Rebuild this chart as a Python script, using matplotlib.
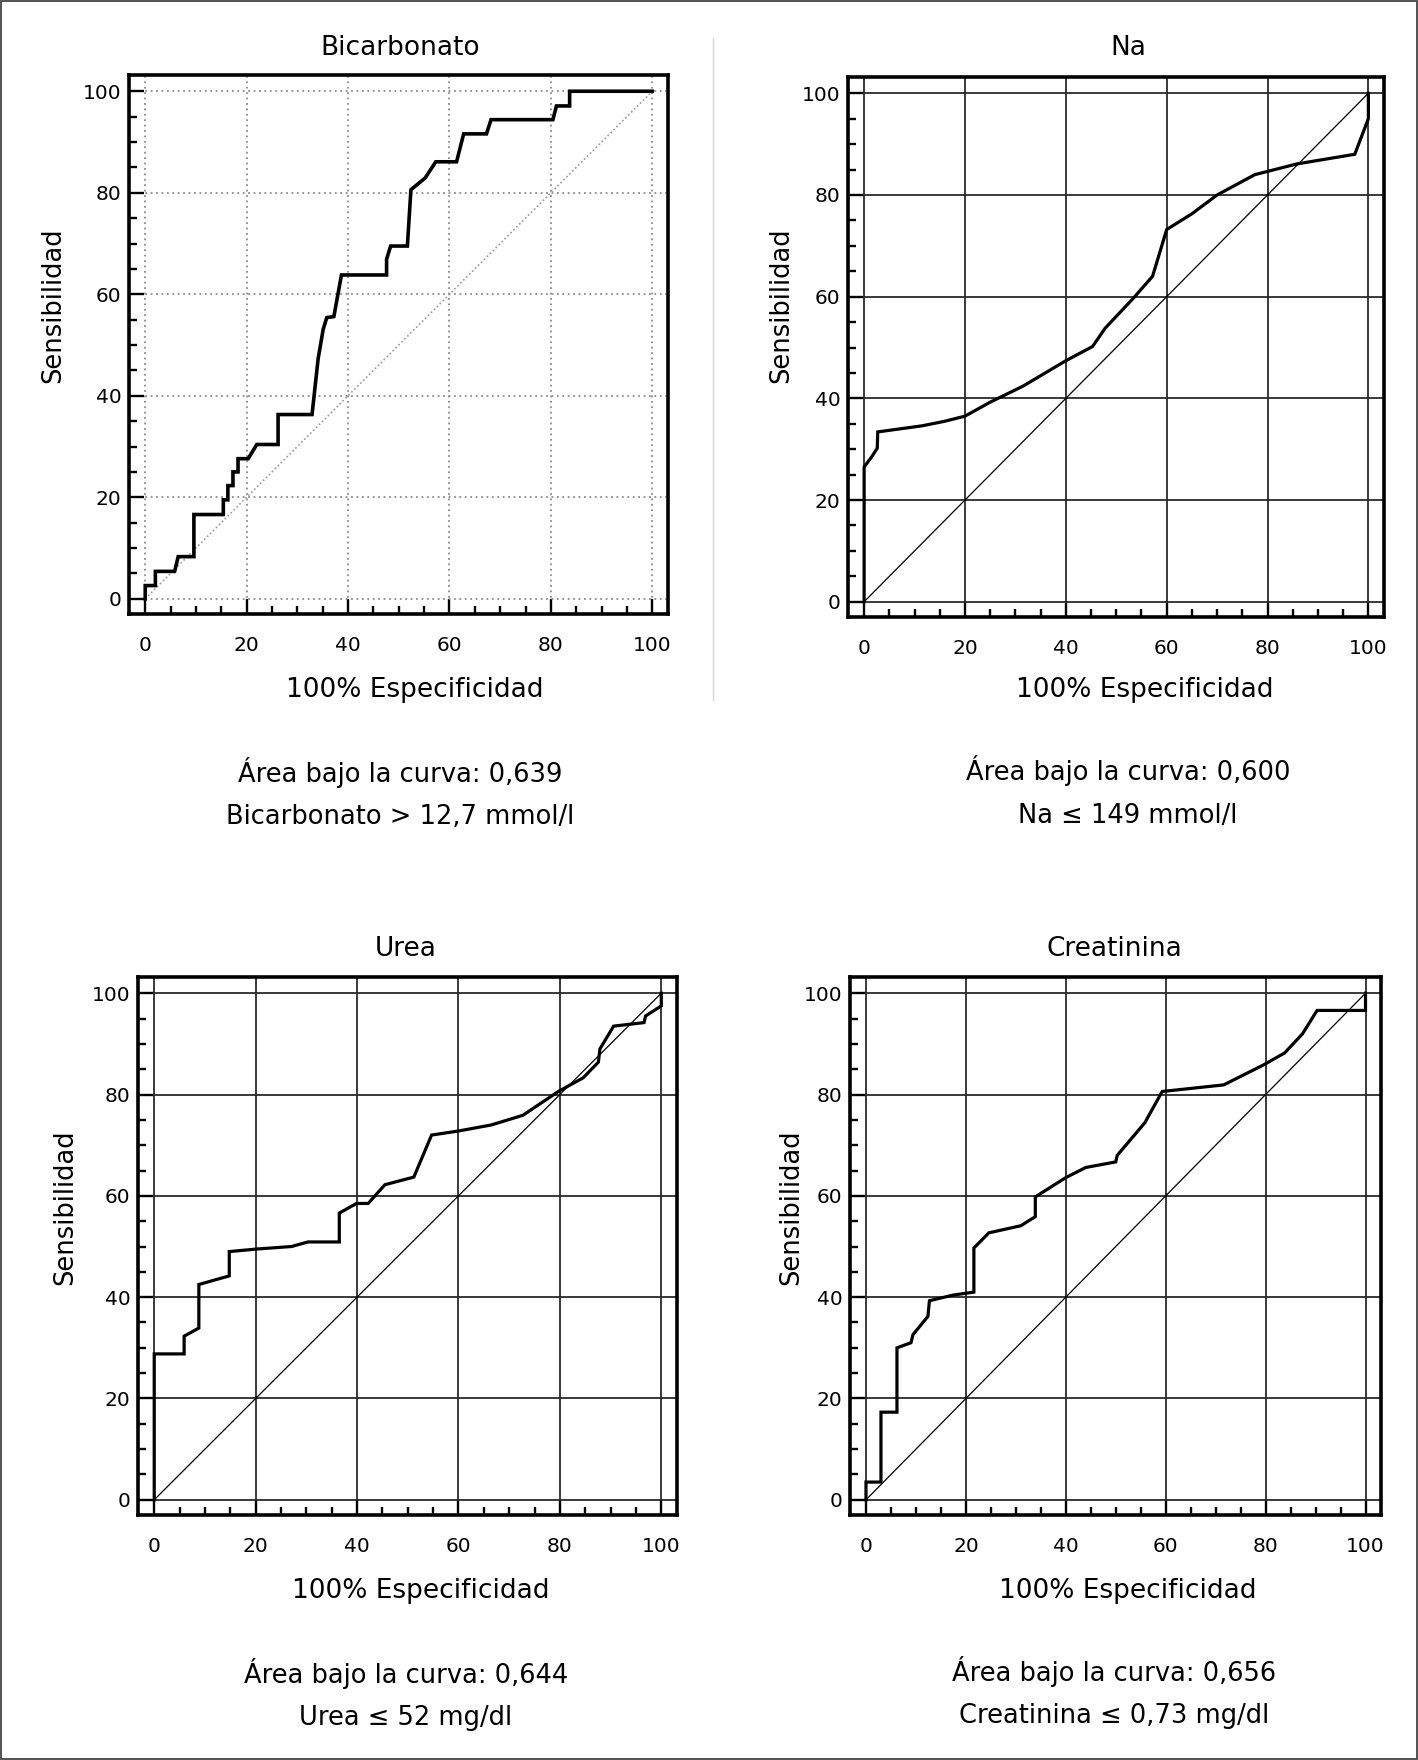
import matplotlib
matplotlib.use("Agg")
import matplotlib.pyplot as plt
from matplotlib.ticker import MultipleLocator
from matplotlib.lines import Line2D
from matplotlib.patches import Rectangle

plt.rcParams['font.family'] = ['DejaVu Sans']

# ROC curves (x = 100-Especificidad, y = Sensibilidad)
bicarb_x = [0, 0, 2, 2, 5.8, 6.5, 9.6, 9.6, 15.4, 15.4, 16.3, 16.3, 17.3, 17.3, 18.3, 18.3,
            20.3, 22, 26.2, 26.2, 32.9, 34.1, 35.1, 35.8, 37.2, 38.7, 47.6, 47.6, 48.4, 51.7,
            52.4, 55.2, 57.3, 61.4, 62.8, 67.3, 68.2, 80.4, 81.1, 83.7, 83.7, 100]
bicarb_y = [0, 2.6, 2.6, 5.4, 5.4, 8.3, 8.3, 16.6, 16.6, 19.5, 19.5, 22.3, 22.3, 25, 25, 27.6,
            27.6, 30.4, 30.4, 36.3, 36.3, 47.3, 53.1, 55.4, 55.6, 63.8, 63.8, 66.9, 69.5, 69.5,
            80.6, 82.9, 86.1, 86.1, 91.6, 91.6, 94.4, 94.4, 97.1, 97.1, 100, 100]

na_x = [0, 0, 1.5, 2.6, 2.7, 11.5, 16, 20, 24.9, 31.5, 40, 45.3, 47.8, 53.3, 57.2, 60,
        65, 70, 77.5, 85.8, 97.3, 100, 100]
na_y = [0, 26.5, 28.5, 30.2, 33.4, 34.6, 35.5, 36.5, 39.2, 42.4, 47.4, 50.2, 53.8, 59.6, 64, 73.2,
        76.3, 80, 84, 86.1, 88, 95, 100]

urea_x = [0, 0, 5.9, 5.9, 8.8, 8.8, 14.8, 14.8, 20.2, 27.1, 30.3, 36.5, 36.5, 39.9, 42.2, 45.5,
          51.2, 54.7, 60, 66.5, 72.7, 79.7, 84.6, 87.6, 87.9, 90.6, 96.6, 96.9, 100, 100]
urea_y = [0, 28.8, 28.8, 32.3, 33.9, 42.5, 44.2, 49, 49.5, 50, 50.9, 50.9, 56.6, 58.5, 58.5, 62.2,
          63.7, 72, 72.8, 74, 75.9, 80.6, 83.3, 86.4, 89, 93.5, 94.2, 95.5, 97.5, 100]

creat_x = [0, 0, 3, 3, 6.2, 6.2, 9, 9.4, 12.4, 12.7, 17.4, 21.6, 21.6, 24.6, 31, 33.9, 33.9,
           40, 44, 50, 50.3, 55.8, 59.3, 71.6, 79.5, 83.8, 87.4, 90.3, 100, 100]
creat_y = [0, 3.5, 3.5, 17.3, 17.3, 30, 31, 32.6, 36.2, 39.3, 40.4, 41, 49.7, 52.7, 54.1, 55.9, 59.8,
           63.6, 65.6, 66.7, 68, 74.4, 80.6, 81.9, 85.8, 88.2, 92, 96.6, 96.6, 100]

titles = ["Bicarbonato", "Na", "Urea", "Creatinina"]
areas = ["0,639", "0,600", "0,644", "0,656"]
criteria = ["Bicarbonato > 12,7 mmol/l", "Na \u2264 149 mmol/l",
            "Urea \u2264 52 mg/dl", "Creatinina \u2264 0,73 mg/dl"]
curves = [(bicarb_x, bicarb_y), (na_x, na_y), (urea_x, urea_y), (creat_x, creat_y)]
ticks = [0, 20, 40, 60, 80, 100]

W, H = 1418, 1760
fig = plt.figure(figsize=(W / 100, H / 100), dpi=100)

# pixel layout: axes box (left, top, right, bottom), text anchors
boxes = [(129, 75, 668, 614), (848, 77, 1384, 617), (138, 977, 677, 1515), (850, 977, 1381, 1515)]
title_xy = [(400, 48), (1128, 48), (406, 949), (1114, 949)]
ylab_xy = [(53, 305), (781, 305), (65, 1207), (791, 1207)]
xlab_xy = [(415, 690), (1145, 690), (421, 1591), (1128, 1591)]
line1_xy = [(400, 772), (1128, 770), (406, 1673), (1114, 1671)]
line2_xy = [(400, 817), (1128, 816), (406, 1718), (1114, 1716)]


def fpos(p):
    return p[0] / W, 1 - p[1] / H


fs = 18.5
for i in range(4):
    l, t, r, b = boxes[i]
    ax = fig.add_axes([l / W, 1 - b / H, (r - l) / W, (b - t) / H])
    ax.set_xlim(-3.2, 103.1)
    ax.set_ylim(-3.0, 103.2)
    ax.set_xticks(ticks)
    ax.set_yticks(ticks)
    ax.xaxis.set_minor_locator(MultipleLocator(5))
    ax.yaxis.set_minor_locator(MultipleLocator(5))
    ax.tick_params(which='both', direction='in', top=False, right=False, width=1.7, color='black')
    ax.tick_params(axis='x', which='major', length=10.5, pad=16, labelsize=14.5)
    ax.tick_params(axis='y', which='major', length=10.5, pad=5.5, labelsize=14.5)
    ax.tick_params(which='minor', length=6)
    for s in ax.spines.values():
        s.set_linewidth(2.6)
    if i == 0:
        ax.grid(True, which='major', color='#8c8c8c', linestyle=(0, (1, 2)), linewidth=1.3)
        ax.plot([0, 100], [0, 100], color='#9a9a9a', linestyle=(0, (1, 1.5)), linewidth=1.2)
        lw = 2.6
    else:
        ax.grid(True, which='major', color='#2a2a2a', linestyle='-', linewidth=1.3)
        ax.plot([0, 100], [0, 100], color='black', linewidth=0.9)
        lw = 2.3
    ax.set_axisbelow(True)
    x, y = curves[i]
    ax.plot(x, y, color='black', linewidth=lw, solid_joinstyle='miter')

    fig.text(*fpos(title_xy[i]), titles[i], ha='center', va='center', fontsize=19)
    fig.text(*fpos(ylab_xy[i]), "Sensibilidad", ha='center', va='center', fontsize=fs, rotation=90)
    fig.text(*fpos(xlab_xy[i]), "100% Especificidad", ha='center', va='center', fontsize=19)
    fig.text(*fpos(line1_xy[i]), "\u00c1rea bajo la curva: " + areas[i], ha='center', va='center', fontsize=fs)
    fig.text(*fpos(line2_xy[i]), criteria[i], ha='center', va='center', fontsize=fs)

# outer frame and faint column separator
fig.add_artist(Rectangle((0.0008, 0.0008), 0.9985, 0.9985, transform=fig.transFigure,
                         fill=False, edgecolor='#444444', linewidth=1.3))
fig.add_artist(Line2D([713 / W, 713 / W], [1 - 38 / H, 1 - 700 / H], transform=fig.transFigure,
                      color='#d6d6d6', linewidth=1.0))

fig.savefig("out.png", dpi=100)
